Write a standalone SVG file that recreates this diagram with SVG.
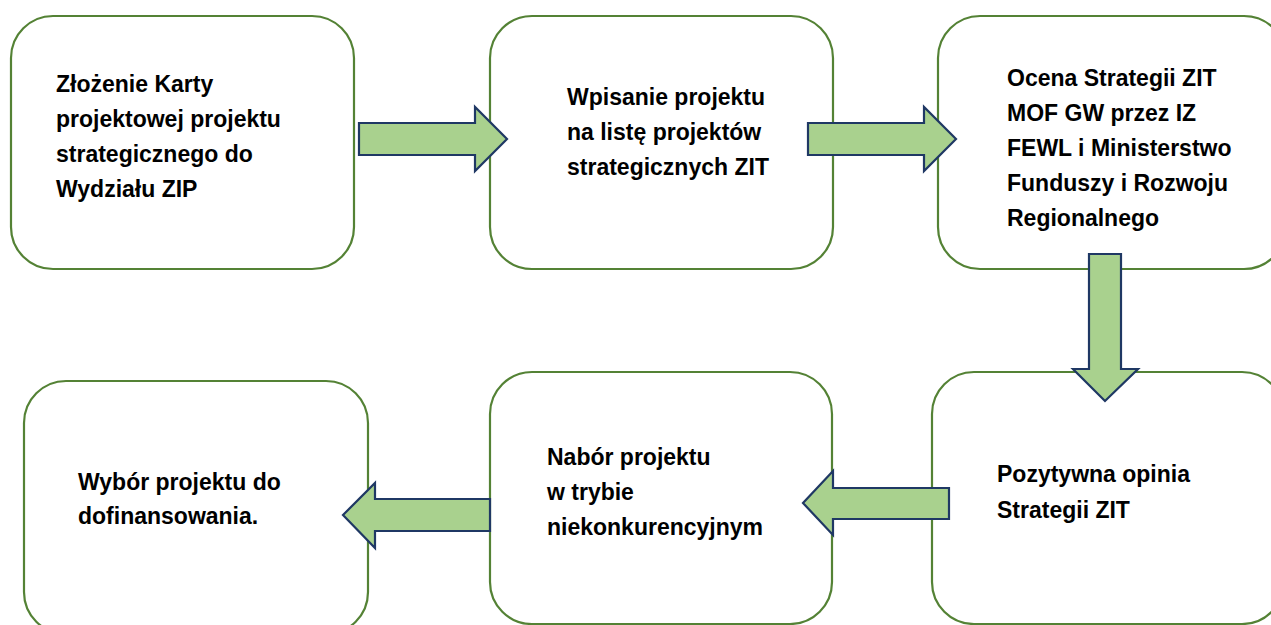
<svg xmlns="http://www.w3.org/2000/svg" width="1271" height="625" viewBox="0 0 1271 625">
<style>
.box{fill:#ffffff;stroke:#548235;stroke-width:2.2}
.lbl{font-family:"Liberation Sans",Arial,sans-serif;font-weight:bold;font-size:23px;fill:#000000}
.arr{fill:#A9D18E;stroke:#1F3864;stroke-width:2.2;stroke-linejoin:miter}
</style>
<rect x="0" y="0" width="1271" height="625" fill="#ffffff"/>
<g id="node1">
<rect class="box" x="11" y="16" width="343" height="253" rx="42" ry="42"/>
<text class="lbl" x="56" y="92">Złożenie Karty</text>
<text class="lbl" x="56" y="127">projektowej projektu</text>
<text class="lbl" x="56" y="162">strategicznego do</text>
<text class="lbl" x="56" y="197">Wydziału ZIP</text>
</g>
<g id="node2">
<rect class="box" x="490" y="16" width="343" height="253" rx="42" ry="42"/>
<text class="lbl" x="567" y="105">Wpisanie projektu</text>
<text class="lbl" x="567" y="140">na listę projektów</text>
<text class="lbl" x="567" y="175">strategicznych ZIT</text>
</g>
<g id="node3">
<rect class="box" x="938" y="16" width="348" height="253" rx="42" ry="42"/>
<text class="lbl" x="1007" y="86">Ocena Strategii ZIT</text>
<text class="lbl" x="1007" y="121">MOF GW przez IZ</text>
<text class="lbl" x="1007" y="156">FEWL i Ministerstwo</text>
<text class="lbl" x="1007" y="191">Funduszy i Rozwoju</text>
<text class="lbl" x="1007" y="226">Regionalnego</text>
</g>
<g id="node4">
<rect class="box" x="932" y="372" width="352" height="252" rx="42" ry="42"/>
<text class="lbl" x="997" y="482">Pozytywna opinia</text>
<text class="lbl" x="997" y="518">Strategii ZIT</text>
</g>
<g id="node5">
<rect class="box" x="490" y="372" width="342" height="252" rx="42" ry="42"/>
<text class="lbl" x="547" y="465">Nabór projektu</text>
<text class="lbl" x="547" y="500">w trybie</text>
<text class="lbl" x="547" y="535">niekonkurencyjnym</text>
</g>
<g id="node6">
<rect class="box" x="24" y="381" width="344" height="253" rx="42" ry="42"/>
<text class="lbl" x="78" y="490">Wybór projektu do</text>
<text class="lbl" x="78" y="524">dofinansowania.</text>
</g>
<g id="connectors">
<polygon class="arr" points="359,123 475,123 475,107 507,139 475,171 475,155 359,155"/>
<polygon class="arr" points="808,123 924,123 924,107 956,139 924,171 924,155 808,155"/>
<polygon class="arr" points="1089,254 1121,254 1121,369 1138,369 1105,401 1073,369 1089,369"/>
<polygon class="arr" points="949,488 833,488 833,471 803,503 833,535 833,519 949,519"/>
<polygon class="arr" points="490,499 375,499 375,483 343,515 375,548 375,531 490,531"/>
</g>
</svg>
